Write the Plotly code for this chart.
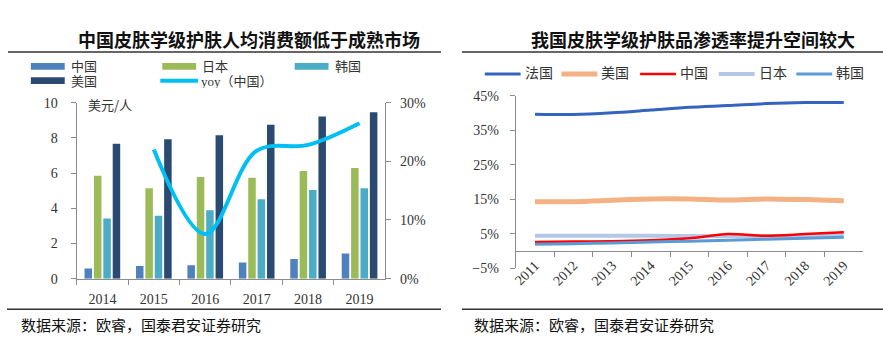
import plotly.graph_objects as go

# ---------------- data: left chart ----------------
years_left = ["2014", "2015", "2016", "2017", "2018", "2019"]
bar_names = ["中国", "日本", "韩国", "美国"]
spend_china = [0.58, 0.72, 0.76, 0.92, 1.12, 1.43]
spend_japan = [5.85, 5.14, 5.78, 5.74, 6.12, 6.29]
spend_korea = [3.42, 3.57, 3.89, 4.51, 5.04, 5.14]
spend_usa = [7.66, 7.92, 8.15, 8.75, 9.22, 9.46]
yoy_name = "yoy（中国）"
yoy_china = [None, 22.0, 7.6, 21.8, 22.8, 26.5]
left_ticks = [0, 2, 4, 6, 8, 10]
right_ticks = [0, 10, 20, 30]
right_tick_text = ["0%", "10%", "20%", "30%"]

# ---------------- data: right chart ----------------
years_right = ["2011", "2012", "2013", "2014", "2015", "2016", "2017", "2018", "2019"]
line_names = ["法国", "美国", "中国", "日本", "韩国"]
pen_france = [39.7, 39.6, 40.1, 40.9, 41.7, 42.2, 42.8, 43.1, 43.1]
pen_usa = [14.3, 14.3, 14.7, 15.1, 15.1, 14.8, 15.1, 14.9, 14.6]
pen_china = [2.6, 2.7, 2.8, 3.1, 3.7, 4.9, 4.4, 4.9, 5.4]
pen_japan = [4.4, 4.4, 4.4, 4.4, 4.3, 4.3, 4.3, 4.4, 4.5]
pen_korea = [1.9, 2.1, 2.3, 2.6, 2.8, 3.1, 3.4, 3.7, 4.0]
pen_ticks = [-5, 5, 15, 25, 35, 45]
pen_tick_text = ["\u22125%", "5%", "15%", "25%", "35%", "45%"]

title_left = "中国皮肤学级护肤人均消费额低于成熟市场"
title_right = "我国皮肤学级护肤品渗透率提升空间较大"
unit_label = "美元/人"
source_text = "数据来源：欧睿，国泰君安证券研究"

# ---------------- styles ----------------
W, H = 883, 345
FONT = "Liberation Serif, Noto Sans CJK SC"
CJK = "Noto Sans CJK SC, Liberation Serif"
AX = "#8C8C8C"
TXT = "#333333"
bar_colors = ["#4F81BD", "#9BBB59", "#4BACC6", "#2B4A72"]
yoy_color = "#00BFF3"
line_colors = ["#3563C0", "#F4B183", "#FF0000", "#B4C7E7", "#5B9BD5"]
line_widths = [3, 5, 2.5, 4, 3]


def px(x):
    return x / W


def py(y):
    return 1 - y / H


fig = go.Figure()

bar_values = [spend_china, spend_japan, spend_korea, spend_usa]
for name, vals, col in zip(bar_names, bar_values, bar_colors):
    fig.add_trace(go.Bar(x=years_left, y=vals, name=name, marker_color=col,
                         marker_line_width=0, xaxis="x", yaxis="y", showlegend=False))

fig.add_trace(go.Scatter(x=years_left, y=yoy_china, name=yoy_name, mode="lines",
                         line=dict(color=yoy_color, width=4, shape="spline", smoothing=1.0),
                         xaxis="x", yaxis="y2", showlegend=False, connectgaps=False))

pen_values = {"法国": pen_france, "美国": pen_usa, "中国": pen_china, "日本": pen_japan, "韩国": pen_korea}
draw_order = ["法国", "美国", "日本", "中国", "韩国"]
for name in draw_order:
    i = line_names.index(name)
    fig.add_trace(go.Scatter(x=years_right, y=pen_values[name], name=name, mode="lines",
                             line=dict(color=line_colors[i], width=line_widths[i],
                                       shape="spline", smoothing=0.8),
                             xaxis="x2", yaxis="y3", showlegend=False))

axis_common = dict(showline=True, linecolor=AX, linewidth=1, ticks="outside", tickcolor=AX,
                   ticklen=5, showgrid=False, zeroline=False,
                   tickfont=dict(family=FONT, size=14, color=TXT))

left_dom_x = [px(73), px(383)]
left_dom_y = [py(284), py(100)]
right_dom_x = [px(514), px(863)]
right_dom_y = [py(273), py(93)]
zero_pos = right_dom_y[0] + (0 - (-5)) / 50 * (right_dom_y[1] - right_dom_y[0])

fig.update_layout(
    width=W, height=H, autosize=False,
    margin=dict(l=0, r=0, t=0, b=0),
    paper_bgcolor="white", plot_bgcolor="white",
    barmode="group", bargap=0.27, bargroupgap=0.2,
    font=dict(family=FONT, color=TXT),
    xaxis=dict(domain=left_dom_x, anchor="y", type="category", tickson="boundaries",
               range=[-0.5, 5.5], ticklabelstandoff=8, **axis_common),
    yaxis=dict(domain=left_dom_y, anchor="x", range=[0, 10], tickvals=left_ticks,
               ticklabelstandoff=10, **axis_common),
    yaxis2=dict(overlaying="y", anchor="x", side="right", range=[0, 30], tickvals=right_ticks,
                ticktext=right_tick_text, ticklabelstandoff=6, **axis_common),
    xaxis2=dict(domain=right_dom_x, anchor="free", position=zero_pos, type="category",
                tickson="boundaries", range=[-0.5, 8.5], tickangle=-45, **axis_common),
    yaxis3=dict(domain=right_dom_y, anchor="x2", range=[-5, 45], tickvals=pen_ticks,
                ticktext=pen_tick_text, ticklabelstandoff=8, **axis_common),
)

shapes = []
annotations = []

# titles and rules
annotations.append(dict(x=px(246), y=py(33), xref="paper", yref="paper", text="<b>" + title_left + "</b>",
                        showarrow=False, font=dict(family=CJK, size=18, color="#111111"),
                        xanchor="center", yanchor="middle"))
annotations.append(dict(x=px(692), y=py(33), xref="paper", yref="paper", text="<b>" + title_right + "</b>",
                        showarrow=False, font=dict(family=CJK, size=18, color="#111111"),
                        xanchor="center", yanchor="middle"))
for (x0, x1, y) in [(4, 439, 47), (460, 883, 47), (3, 439, 316), (460, 883, 316)]:
    shapes.append(dict(type="line", xref="paper", yref="paper", x0=px(x0), x1=px(x1),
                       y0=py(y), y1=py(y), line=dict(color="#333333", width=1.5)))
for x in [15, 470]:
    annotations.append(dict(x=px(x), y=py(332), xref="paper", yref="paper", text=source_text,
                            showarrow=False, font=dict(family=CJK, size=15, color="#111111"),
                            xanchor="left", yanchor="middle"))

annotations.append(dict(x=px(82), y=py(102), xref="paper", yref="paper", text=unit_label,
                        showarrow=False, font=dict(family=CJK, size=13, color=TXT),
                        xanchor="left", yanchor="middle"))

# left legend (manual)
left_leg = [(bar_names[0], bar_colors[0], 27, 62, "bar"), (bar_names[1], bar_colors[1], 159, 62, "bar"),
            (bar_names[2], bar_colors[2], 292, 62, "bar"), (bar_names[3], bar_colors[3], 27, 77, "bar"),
            (yoy_name, yoy_color, 157, 77, "line")]
for name, col, x, y, kind in left_leg:
    if kind == "bar":
        shapes.append(dict(type="rect", xref="paper", yref="paper", x0=px(x), x1=px(x + 34),
                           y0=py(y + 3.5), y1=py(y - 3.5), fillcolor=col, line=dict(width=0)))
        tx = x + 38
    else:
        shapes.append(dict(type="line", xref="paper", yref="paper", x0=px(x), x1=px(x + 38),
                           y0=py(y), y1=py(y), line=dict(color=col, width=4)))
        tx = x + 39
    annotations.append(dict(x=px(tx), y=py(y), xref="paper", yref="paper", text=name,
                            showarrow=False, font=dict(family=FONT, size=13, color=TXT),
                            height=14, xanchor="left", yanchor="middle"))

# right legend (manual)
right_leg_x = [483, 560, 639, 718, 796]
for i, name in enumerate(line_names):
    x = right_leg_x[i]
    shapes.append(dict(type="line", xref="paper", yref="paper", x0=px(x), x1=px(x + 36),
                       y0=py(70), y1=py(70), line=dict(color=line_colors[i], width=line_widths[i])))
    annotations.append(dict(x=px(x + 38), y=py(70), xref="paper", yref="paper", text=name,
                            showarrow=False, font=dict(family=FONT, size=14, color=TXT),
                            xanchor="left", yanchor="middle"))

fig.update_layout(shapes=shapes, annotations=annotations)

fig.write_html("out.html")
